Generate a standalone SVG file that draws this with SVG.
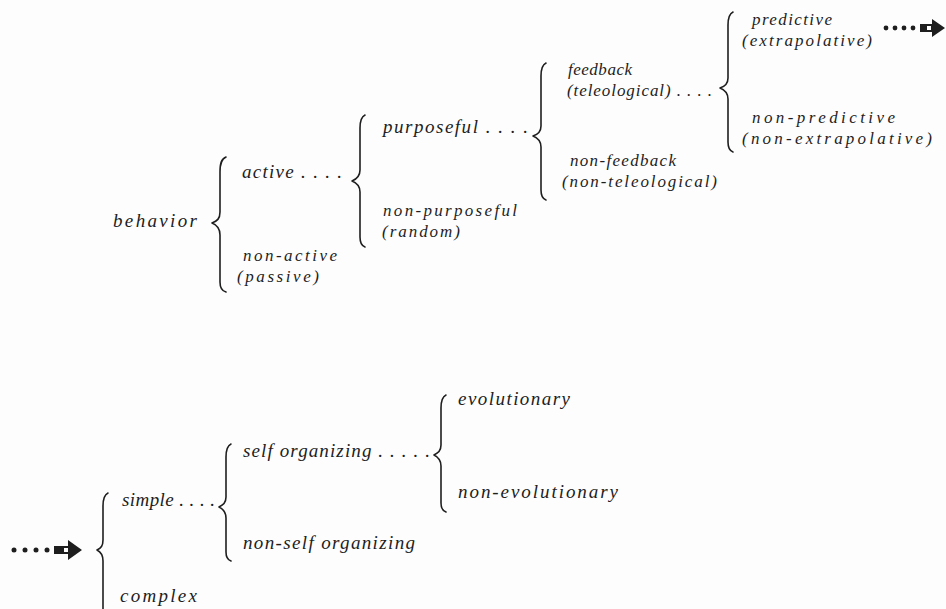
<svg xmlns="http://www.w3.org/2000/svg" width="946" height="609" viewBox="0 0 946 609">
<style>
text{font-family:"Liberation Serif","DejaVu Serif",serif;font-style:italic;font-size:19px;fill:#1e1e1e}
text.p{font-size:17px}
.br{fill:none;stroke:#1e1e1e;stroke-width:1.6;stroke-linecap:round;stroke-linejoin:round}
.dot{fill:#1e1e1e}
.ar{fill:#1e1e1e}
</style>
<rect width="946" height="609" fill="#fdfdfd"/>
<g id="connectors">
<path class="br" d="M226,157 C221,159 220,164 220,172 L220,212 C220,219 217,221 212,223 C217,225 220,228 220,235 L220,282 C220,288 222,291 226,292"/>
<path class="br" d="M365,115 C361,117 360,121 360,128 L360,170 C360,176 357,179 352,181 C357,183 360,186 360,192 L360,237 C360,243 362,246 365,247"/>
<path class="br" d="M546,63 C542,65 541,69 541,76 L541,126 C541,132 538,134 533,136 C538,138 541,141 541,147 L541,190 C541,196 543,199 546,200"/>
<path class="br" d="M733,12 C729,14 728,18 728,25 L728,78 C728,84 725,86 720,88 C725,90 728,93 728,99 L728,142 C728,148 730,151 733,152"/>
<path class="br" d="M108,493 C104,495 103,499 103,506 L103,540 C103,546 101,548 97,550 C101,552 103,555 103,561 L103,609"/>
<path class="br" d="M231,444 C227,446 226,450 226,457 L226,497 C226,503 223,505 219,507 C223,509 226,512 226,518 L226,552 C226,557 228,560 231,561"/>
<path class="br" d="M446,395 C442,397 441,401 441,408 L441,445 C441,451 438,453 434,455 C438,457 441,460 441,466 L441,503 C441,508 443,511 446,512"/>
<g id="arrow-top">
<circle class="dot" cx="886" cy="28" r="2.4"/>
<circle class="dot" cx="895" cy="28" r="2.4"/>
<circle class="dot" cx="904" cy="28" r="2.4"/>
<circle class="dot" cx="913" cy="28" r="2.4"/>
<polygon class="ar" points="920,24 932,24 932,19 945,28 932,37 932,32 920,32"/>
<rect x="927" y="26" width="4" height="4" fill="#fdfdfd"/>
</g>
<g id="arrow-bottom">
<circle class="dot" cx="14" cy="550" r="2.5"/>
<circle class="dot" cx="25" cy="550" r="2.5"/>
<circle class="dot" cx="36" cy="550" r="2.5"/>
<circle class="dot" cx="47" cy="550" r="2.5"/>
<polygon class="ar" points="54,546 68,546 68,540 82,550 68,560 68,554 54,554"/>
<rect x="64" y="548" width="4" height="4" fill="#fdfdfd"/>
</g>
</g>
<g id="behavior"><text x="113" y="227" textLength="84">behavior</text></g>
<g id="active"><text x="242" y="178" textLength="100">active . . . .</text></g>
<g id="non-active"><text class="p" x="243" y="261" textLength="94">non-active</text><text class="p" x="237" y="282" textLength="82">(passive)</text></g>
<g id="purposeful"><text x="383" y="133" textLength="145">purposeful . . . .</text></g>
<g id="non-purposeful"><text class="p" x="383" y="216" textLength="134">non-purposeful</text><text class="p" x="382" y="237" textLength="78">(random)</text></g>
<g id="feedback"><text class="p" x="568" y="75" textLength="64">feedback</text><text class="p" x="567" y="96" textLength="145">(teleological) . . . .</text></g>
<g id="non-feedback"><text class="p" x="570" y="166" textLength="106">non-feedback</text><text class="p" x="562" y="187" textLength="155">(non-teleological)</text></g>
<g id="predictive"><text class="p" x="752" y="25" textLength="80">predictive</text><text class="p" x="742" y="46" textLength="130">(extrapolative)</text></g>
<g id="non-predictive"><text class="p" x="752" y="123" textLength="143">non-predictive</text><text class="p" x="742" y="144" textLength="190">(non-extrapolative)</text></g>
<g id="simple"><text x="122" y="506" textLength="93">simple . . . .</text></g>
<g id="complex"><text x="120" y="602" textLength="77">complex</text></g>
<g id="self-organizing"><text x="243" y="457" textLength="187">self organizing . . . . .</text></g>
<g id="non-self-organizing"><text x="243" y="549" textLength="172">non-self organizing</text></g>
<g id="evolutionary"><text x="458" y="405" textLength="112">evolutionary</text></g>
<g id="non-evolutionary"><text x="458" y="498" textLength="160">non-evolutionary</text></g>
</svg>
